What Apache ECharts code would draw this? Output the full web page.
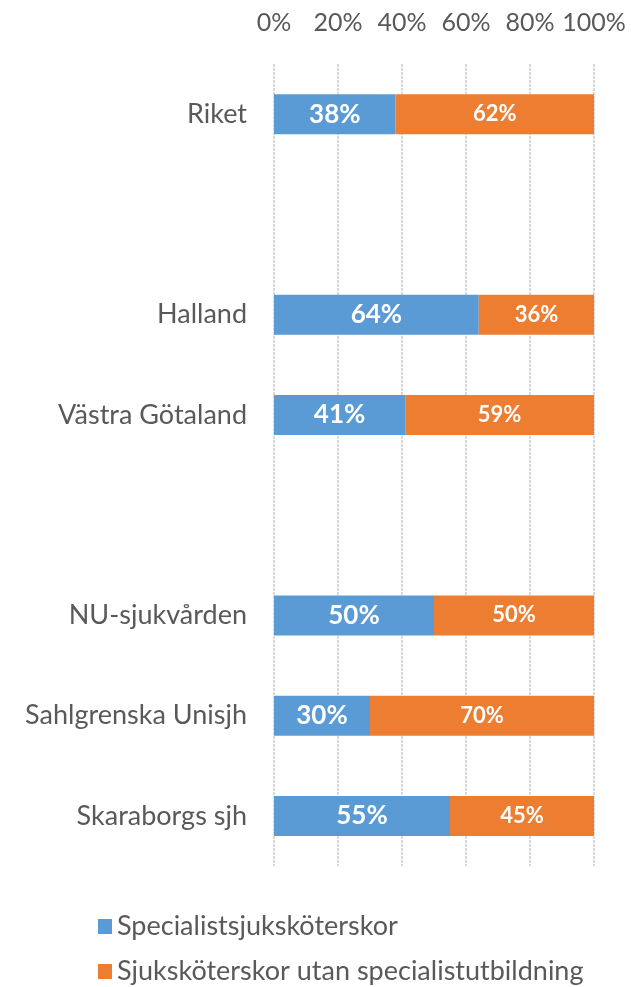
<!DOCTYPE html>
<html>
<head>
<meta charset="utf-8">
<script src="https://cdn.jsdelivr.net/npm/echarts@6/dist/echarts.min.js"></script>
<style>
html, body { margin: 0; padding: 0; background: #fff; }
#chart { width: 631px; height: 987px; }
</style>
</head>
<body>
<div id="chart"></div>
<script>
// kategorier, tomma rader som mellanrum
var categories = ['Riket', '', 'Halland', 'Västra Götaland', '', 'NU-sjukvården', 'Sahlgrenska Unisjh', 'Skaraborgs sjh'];
var specialist = [38, '-', 64, 41, '-', 50, 30, 55];
var utanSpecialist = [62, '-', 36, 59, '-', 50, 70, 45];
var tickLabels = ['0%', '20%', '40%', '60%', '80%', '100%'];
var seriesNames = ['Specialistsjuksköterskor', 'Sjuksköterskor utan specialistutbildning'];

var font = 'Lato, "Open Sans", sans-serif';

function legendFor(name, top) {
    return {
        left: 93,
        top: top,
        itemWidth: 14,
        itemHeight: 15,
        icon: 'rect',
        textStyle: { fontFamily: font, fontSize: 27, color: '#595959' },
        data: [name]
    };
}

var chart = echarts.init(document.getElementById('chart'));
chart.setOption({
    animation: false,
    grid: { left: 274, right: 37, top: 64, bottom: 121 },
    xAxis: {
        type: 'value',
        position: 'top',
        min: 0,
        max: 100,
        interval: 20,
        axisLine: { show: false },
        axisTick: { show: false },
        axisLabel: {
            margin: 29,
            fontFamily: font,
            fontSize: 25,
            color: '#595959',
            formatter: function (v) { return tickLabels[v / 20]; }
        },
        splitLine: { lineStyle: { color: '#d9d9d9', width: 2, type: [3, 1] } }
    },
    yAxis: {
        type: 'category',
        inverse: true,
        data: categories,
        axisLine: { show: false },
        axisTick: { show: false },
        axisLabel: { margin: 27, fontFamily: font, fontSize: 27, color: '#595959' }
    },
    legend: [legendFor(seriesNames[0], 908), legendFor(seriesNames[1], 953)],
    series: [{
        name: seriesNames[0],
        type: 'bar',
        stack: 'tot',
        barWidth: 40,
        itemStyle: { color: '#5b9bd5' },
        label: {
            show: true,
            formatter: '{c}%',
            color: '#fff',
            fontFamily: font,
            fontWeight: 'bold',
            fontSize: 26
        },
        data: specialist
    }, {
        name: seriesNames[1],
        type: 'bar',
        stack: 'tot',
        barWidth: 40,
        itemStyle: { color: '#ed7d31' },
        label: {
            show: true,
            formatter: '{c}%',
            color: '#fff',
            fontFamily: font,
            fontWeight: 'bold',
            fontSize: 22
        },
        data: utanSpecialist
    }]
});
</script>
</body>
</html>
